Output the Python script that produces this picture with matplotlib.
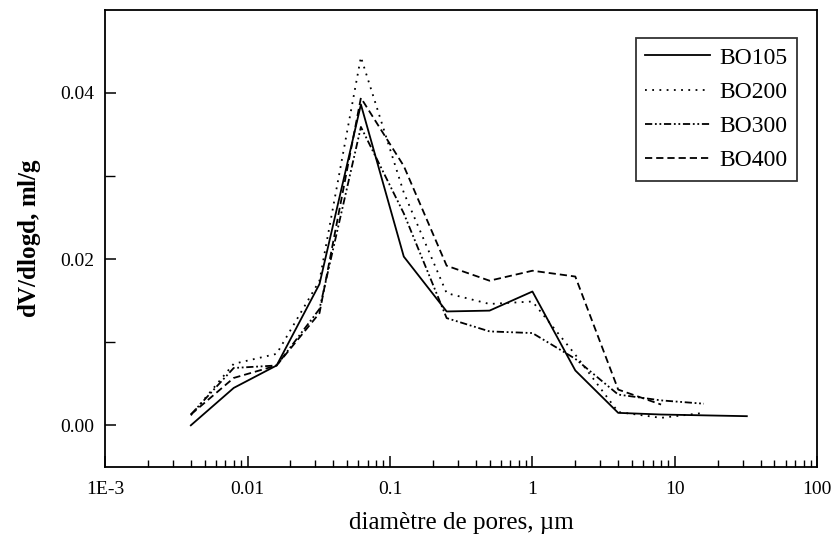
import numpy as np
import matplotlib
matplotlib.use("Agg")
import matplotlib.pyplot as plt
from matplotlib.ticker import FixedLocator, NullFormatter

plt.rcParams['font.family'] = ['Liberation Serif', 'DejaVu Serif']
plt.rcParams['mathtext.fontset'] = 'custom'
plt.rcParams['mathtext.rm'] = 'Liberation Serif'
plt.rcParams['mathtext.bf'] = 'Liberation Serif:bold'

# diamètre de pores (µm)
d_105 = [0.004, 0.008, 0.016, 0.032, 0.0625, 0.125, 0.25, 0.5, 1, 2, 4, 8, 16, 32]
d_200 = [0.004, 0.008, 0.016, 0.032, 0.0625, 0.125, 0.25, 0.5, 1, 2, 4, 8, 16]
d_300 = [0.004, 0.008, 0.016, 0.032, 0.0625, 0.125, 0.25, 0.5, 1, 2, 4, 8, 16]
d_400 = [0.004, 0.008, 0.016, 0.032, 0.0625, 0.125, 0.25, 0.5, 1, 2, 4, 8]

# dV/dlogd (ml/g)
v_105 = [0.0000, 0.0045, 0.0072, 0.0170, 0.0386, 0.0203, 0.0137, 0.0138, 0.0161, 0.0066, 0.0015, 0.0013, 0.0012, 0.0011]
v_200 = [0.0012, 0.0074, 0.0086, 0.0174, 0.0443, 0.0280, 0.0159, 0.0146, 0.0149, 0.0085, 0.0016, 0.0009, 0.0015]
v_300 = [0.0013, 0.0069, 0.0072, 0.0140, 0.0359, 0.0255, 0.0129, 0.0113, 0.0111, 0.0080, 0.0037, 0.0030, 0.0026]
v_400 = [0.0013, 0.0057, 0.0072, 0.0135, 0.0394, 0.0312, 0.0192, 0.0174, 0.0186, 0.0179, 0.0043, 0.0025]

labels = ['BO105', 'BO200', 'BO300', 'BO400']
xtick_vals = [1e-3, 0.01, 0.1, 1, 10, 100]
xtick_text = ['1E-3', '0.01', '0.1', '1', '10', '100']
ytick_vals = [0.00, 0.02, 0.04]

fig = plt.figure(figsize=(8.34, 5.41), dpi=100)
ax = fig.add_axes([0.126, 0.137, 0.854, 0.845])

lw = 1.3
ax.plot(d_105, v_105, color='black', lw=lw, ls='-', label=labels[0])
ax.plot(d_200, v_200, color='black', lw=lw, ls=(0, (1, 3)), label=labels[1])
ax.plot(d_300, v_300, color='black', lw=lw, ls=(0, (4, 1.5, 1, 1.5, 1, 1.5)), label=labels[2])
ax.plot(d_400, v_400, color='black', lw=lw, ls=(0, (4, 2.2)), label=labels[3])

ax.set_xscale('log')
ax.set_xlim(1e-3, 100)
ax.set_ylim(-0.005, 0.05)

ax.set_xticks(xtick_vals)
ax.set_xticklabels(xtick_text)
minors = [m * 10.0 ** e for e in range(-3, 2) for m in range(2, 10)]
ax.xaxis.set_minor_locator(FixedLocator(minors))
ax.xaxis.set_minor_formatter(NullFormatter())
ax.set_yticks(ytick_vals)
ax.set_yticklabels(['0.00', '0.02', '0.04'])
ax.yaxis.set_minor_locator(FixedLocator([0.01, 0.03]))

ax.tick_params(which='both', direction='in', top=False, right=False, labelsize=14)
ax.tick_params(which='major', length=8, width=1.1)
ax.tick_params(which='minor', length=5, width=1.0)
ax.tick_params(axis='y', which='minor', length=7)
ax.tick_params(axis='x', pad=10)
ax.tick_params(axis='y', pad=8)
for s in ax.spines.values():
    s.set_linewidth(1.3)

ax.set_xlabel('diamètre de pores, µm', fontsize=18, labelpad=10)
ax.set_ylabel(r'd$\mathbf{V}$/dlog$\mathbf{d}$, ml/g', fontsize=18, fontweight='bold', labelpad=12)

leg = ax.legend(loc='upper right', bbox_to_anchor=(0.972, 0.939), borderaxespad=0,
                fontsize=17, frameon=True, fancybox=False, edgecolor='black',
                handlelength=2.75, labelspacing=0.54, borderpad=0.4, handletextpad=0.4)
leg.get_frame().set_linewidth(1.3)

fig.savefig('out.png', dpi=100)
